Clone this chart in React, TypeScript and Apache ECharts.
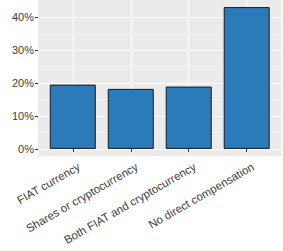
import React, { useEffect, useRef } from "react";
import * as echarts from "echarts";

const categories = [
  "FIAT currency",
  "Shares or cryptocurrency",
  "Both FIAT and cryptocurrency",
  "No direct compensation",
];
const shares = [19.5, 18.2, 18.9, 43.0];
const yTicks = [0, 10, 20, 30, 40];
const yMinor = [5, 15, 25, 35];
const catPositions = [1, 2, 3, 4];

export default function App() {
  const ref = useRef<HTMLDivElement>(null);
  useEffect(() => {
    if (!ref.current) return;
    const chart = echarts.init(ref.current, null, { renderer: "svg" });
    const font = "Liberation Sans, Arial, sans-serif";
    chart.setOption({
      animation: false,
      backgroundColor: "#ffffff",
      grid: {
        left: 38,
        right: 1.5,
        top: 0,
        bottom: 95,
        show: true,
        backgroundColor: "#ebebeb",
        borderWidth: 0,
      },
      xAxis: {
        type: "value",
        min: 0.4,
        max: 4.6,
        axisLine: { show: false },
        axisTick: {
          show: true,
          customValues: catPositions,
          length: 3,
          lineStyle: { color: "#333333", width: 1 },
        },
        axisLabel: {
          customValues: catPositions,
          formatter: (v: number) => categories[Math.round(v) - 1] ?? "",
          rotate: 30,
          align: "right",
          verticalAlign: "top",
          margin: 7,
          padding: [0, -4, 0, 0],
          fontSize: 11.4,
          color: "#3d3d3d",
          fontFamily: font,
        },
        splitLine: { show: true, lineStyle: { color: "#ffffff", width: 1 } },
      },
      yAxis: {
        type: "value",
        min: -2.15,
        max: 45.15,
        axisLine: { show: false },
        axisTick: {
          show: true,
          customValues: yTicks,
          length: 3,
          lineStyle: { color: "#333333", width: 1 },
        },
        axisLabel: {
          customValues: yTicks,
          formatter: (v: number) => `${Math.round(v)}%`,
          margin: 4,
          fontSize: 11,
          color: "#3d3d3d",
          fontFamily: font,
        },
        splitLine: { show: true, lineStyle: { color: "#ffffff", width: 1 } },
      },
      series: [
        {
          type: "scatter",
          data: [],
          z: 1,
          silent: true,
          markLine: {
            silent: true,
            z: 1,
            symbol: "none",
            label: { show: false },
            lineStyle: { color: "#f7f7f7", width: 0.6, type: "solid" },
            data: yMinor.map((v) => ({ yAxis: v })),
          },
        },
        {
          type: "bar",
          z: 3,
          barWidth: 46,
          data: catPositions.map((p, i) => [p, shares[i]]),
          itemStyle: {
            color: "#2b7bba",
            borderColor: "#1a1a1a",
            borderWidth: 1,
          },
        },
      ],
    });
    return () => chart.dispose();
  }, []);
  return <div ref={ref} style={{ width: 283, height: 251, position: "absolute", left: 0, top: 0 }} />;
}
